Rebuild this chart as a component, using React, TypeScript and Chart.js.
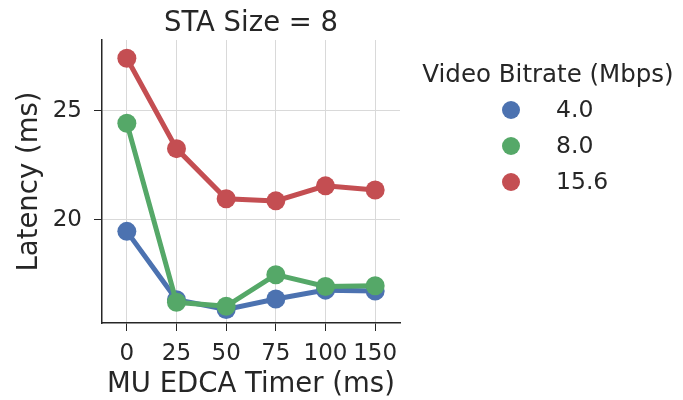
import React, { useEffect, useRef } from "react";
import { Chart, registerables } from "chart.js";

Chart.register(...registerables);

// MU EDCA timer settings (ms) on the x axis
const timers = ["0", "25", "50", "75", "100", "150"];

// Mean latency (ms) per video bitrate
const latency4 = [19.47, 16.33, 15.88, 16.36, 16.77, 16.73];
const latency8 = [24.44, 16.21, 16.03, 17.48, 16.94, 16.97];
const latency156 = [27.42, 23.27, 20.97, 20.87, 21.56, 21.37];

const bitrateLabels = ["4.0", "8.0", "15.6"];
const yTicks = [20, 25];

const BLUE = "#4C72B0";
const GREEN = "#55A868";
const RED = "#C44E52";
const TEXT = "#262626";
const GRID = "#d9d9d9";
const FONT = "'DejaVu Sans', sans-serif";

const titleLegendPlugin = {
  id: "titleLegend",
  afterDraw(chart: any) {
    const ctx = chart.ctx as CanvasRenderingContext2D;
    const area = chart.chartArea;
    ctx.save();
    ctx.fillStyle = TEXT;
    ctx.textBaseline = "middle";
    // plot title
    ctx.font = `27.5px ${FONT}`;
    ctx.textAlign = "center";
    ctx.fillText("STA Size = 8", (area.left + area.right) / 2, 24);

    // legend
    ctx.font = `24.5px ${FONT}`;
    ctx.fillText("Video Bitrate (Mbps)", 548, 76);
    const colors = [BLUE, GREEN, RED];
    const rows = [110, 146, 182];
    ctx.font = `23.5px ${FONT}`;
    ctx.textAlign = "left";
    bitrateLabels.forEach((lab, i) => {
      ctx.beginPath();
      ctx.arc(511, rows[i], 9, 0, Math.PI * 2);
      ctx.fillStyle = colors[i];
      ctx.fill();
      ctx.fillStyle = TEXT;
      ctx.fillText(lab, 556, rows[i] + 1);
    });
    ctx.restore();
  },
};

export default function App() {
  const ref = useRef<HTMLCanvasElement | null>(null);

  useEffect(() => {
    if (!ref.current) return;
    const mk = (label: string, data: number[], color: string, order: number) => ({
      label,
      data,
      borderColor: color,
      backgroundColor: color,
      borderWidth: 5,
      pointRadius: 9.5,
      pointBorderWidth: 0,
      pointBackgroundColor: color,
      tension: 0,
      order,
    });
    const chart = new Chart(ref.current, {
      type: "line",
      data: {
        labels: timers,
        datasets: [
          mk(bitrateLabels[0], latency4, BLUE, 3),
          mk(bitrateLabels[1], latency8, GREEN, 2),
          mk(bitrateLabels[2], latency156, RED, 1),
        ],
      },
      options: {
        animation: false,
        responsive: false,
        layout: { padding: { top: 40, right: 283, left: 0, bottom: 0 } },
        plugins: {
          legend: { display: false },
          tooltip: { enabled: false },
        },
        scales: {
          x: {
            type: "category",
            offset: true,
            grid: {
              color: GRID,
              lineWidth: 1,
              offset: false,
              tickColor: TEXT,
              tickLength: 8,
              drawTicks: true,
            },
            border: { color: TEXT, width: 1.5 },
            ticks: {
              color: TEXT,
              font: { family: FONT, size: 23 },
              padding: 9,
              maxRotation: 0,
              autoSkip: false,
            },
            title: {
              display: true,
              text: "MU EDCA Timer (ms)",
              color: TEXT,
              font: { family: FONT, size: 27.5, lineHeight: 1.0 },
              padding: { top: 0, bottom: 1 },
            },
            afterFit(scale: any) {
              scale.height = 77;
            },
          },
          y: {
            type: "linear",
            min: 15.26,
            max: 28.26,
            grid: {
              color: GRID,
              lineWidth: 1,
              tickColor: TEXT,
              tickLength: 8,
            },
            border: { color: TEXT, width: 1.5 },
            ticks: {
              color: TEXT,
              font: { family: FONT, size: 23 },
              padding: 12,
            },
            afterBuildTicks(scale: any) {
              scale.ticks = yTicks.map((v) => ({ value: v }));
            },
            title: {
              display: true,
              text: "Latency (ms)",
              color: TEXT,
              font: { family: FONT, size: 27.5, lineHeight: 1.0 },
              padding: { top: 16, bottom: 0 },
            },
            afterFit(scale: any) {
              scale.width = 102;
            },
          },
        },
      },
      plugins: [titleLegendPlugin],
    });
    return () => chart.destroy();
  }, []);

  return (
    <div style={{ position: "fixed", left: 0, top: 0, width: 683, height: 400, background: "#fff" }}>
      <canvas ref={ref} width={683} height={400} style={{ display: "block" }} />
    </div>
  );
}
